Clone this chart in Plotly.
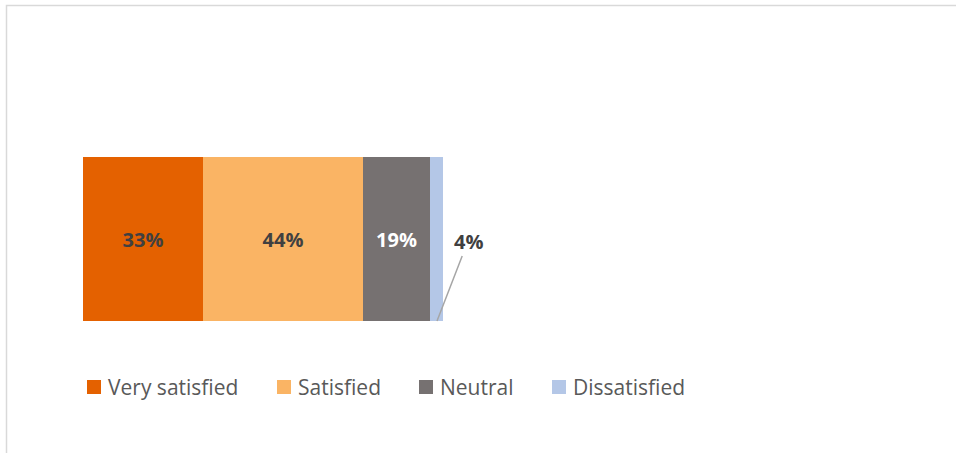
import plotly.graph_objects as go

categories = ["Very satisfied", "Satisfied", "Neutral", "Dissatisfied"]
values = [33.3, 44.4, 18.6, 3.7]
colors = ["#E46100", "#FAB464", "#767171", "#B4C7E7"]
label_colors = ["#404040", "#404040", "#FFFFFF", "#404040"]

FONT = "Open Sans"
W, H = 956, 453
L, R_EDGE, TOP, BOT = 83, 443, 157, 321
PW, PH = R_EDGE - L, BOT - TOP

def px_x(px):
    return (px - L) / PW

def px_y(py):
    return (BOT - py) / PH

fig = go.Figure()
for i, (name, v, c, lc) in enumerate(zip(categories, values, colors, label_colors)):
    inside = v >= 10
    fig.add_trace(go.Bar(
        name=name, x=[v], y=[0], orientation="h",
        marker=dict(color=c, line=dict(width=0)),
        texttemplate="%{x:.0f}%" if inside else None,
        textposition="inside" if inside else "none",
        insidetextanchor="middle", textangle=0, constraintext="none",
        textfont=dict(family=FONT, size=20, color=lc, weight="bold"),
        showlegend=False, hoverinfo="name+x",
    ))

annotations = []
# outside label for small segment with leader line
cum = sum(values[:-1])
annotations.append(dict(
    x=cum + values[-1] * 0.55, y=-0.5, xref="x", yref="y",
    text=f"<b>{values[-1]:.0f}%</b>", showarrow=True, arrowhead=0,
    arrowwidth=1.5, arrowcolor="#A6A6A6", ax=31, ay=-80,
    font=dict(family=FONT, size=20, color="#404040"),
))

# manual legend
legend_x = [87, 277, 419, 552]
shapes = []
for name, c, lx in zip(categories, colors, legend_x):
    shapes.append(dict(type="rect", xref="paper", yref="paper",
                       x0=px_x(lx), x1=px_x(lx + 14), y0=px_y(394), y1=px_y(380),
                       fillcolor=c, line=dict(width=0)))
    annotations.append(dict(x=px_x(lx + 19), y=px_y(387), xref="paper", yref="paper",
                            xanchor="left", yanchor="middle", showarrow=False,
                            text=name, font=dict(family=FONT, size=21, color="#595959")))

# chart area border
shapes.append(dict(type="rect", xref="paper", yref="paper",
                   x0=px_x(6.5), x1=px_x(W + 20), y0=px_y(H + 20), y1=px_y(5.5),
                   line=dict(color="#D9D9D9", width=1.5), fillcolor="rgba(0,0,0,0)"))

fig.update_layout(
    width=W, height=H, barmode="stack", bargap=0,
    margin=dict(l=L, r=W - R_EDGE, t=TOP, b=H - BOT, pad=0),
    paper_bgcolor="white", plot_bgcolor="white",
    xaxis=dict(range=[0, 100], visible=False, fixedrange=True),
    yaxis=dict(range=[-0.5, 0.5], visible=False, fixedrange=True),
    shapes=shapes, annotations=annotations,
    font=dict(family=FONT),
)

fig.write_html("out.html", config={"displayModeBar": False},
               post_script="document.body.style.margin='0';")
